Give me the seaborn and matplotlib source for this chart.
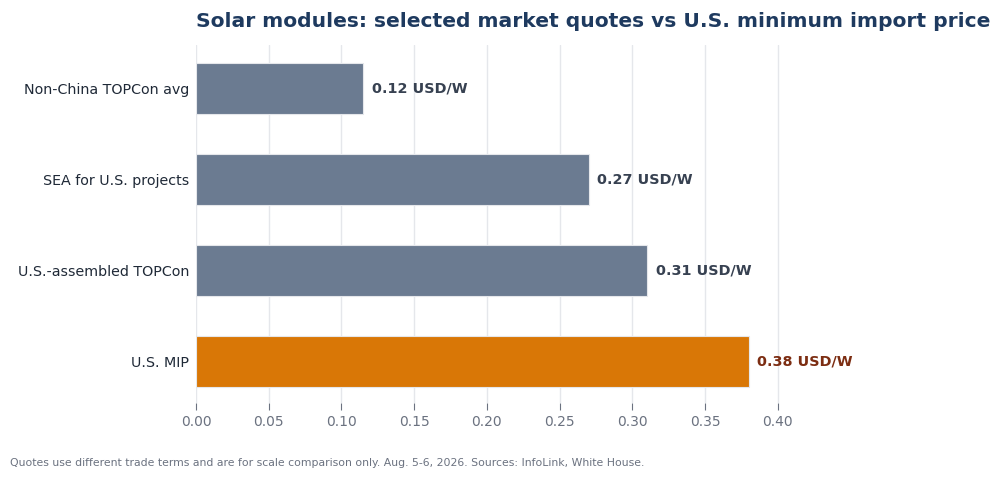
import matplotlib
matplotlib.use("Agg")
import matplotlib.pyplot as plt
import seaborn as sns
import pandas as pd

categories = ["Non-China TOPCon avg", "SEA for U.S. projects", "U.S.-assembled TOPCon", "U.S. MIP"]
prices = [0.115, 0.27, 0.31, 0.38]
labels = ["0.12 USD/W", "0.27 USD/W", "0.31 USD/W", "0.38 USD/W"]
xticks = [0.00, 0.05, 0.10, 0.15, 0.20, 0.25, 0.30, 0.35, 0.40]

bar_colors = ["#6b7b91", "#6b7b91", "#6b7b91", "#d97706"]
label_colors = ["#374151", "#374151", "#374151", "#7c2d12"]

df = pd.DataFrame({"category": categories, "price": prices})

sns.set_theme(style="white")
plt.rcParams["font.family"] = ["DejaVu Sans"]

fig = plt.figure(figsize=(10, 4.79), dpi=100)
ax = fig.add_axes([0.196, 0.159, 0.64, 0.747])

sns.barplot(data=df, x="price", y="category", hue="category", palette=bar_colors,
            saturation=1, legend=False, width=0.56, edgecolor="#e5e7eb",
            linewidth=0.8, ax=ax)

for i, (v, t) in enumerate(zip(prices, labels)):
    ax.text(v + 0.006, i, t, va="center", ha="left", fontsize=10.4,
            fontweight="bold", color=label_colors[i])

ax.set_xlim(0, 0.44)
ax.set_ylim(3.45, -0.48)
ax.set_xticks(xticks)
ax.set_xticklabels([f"{x:.2f}" for x in xticks])
ax.set_xlabel("")
ax.set_ylabel("")
ax.grid(axis="x", color="#e5e7eb", linewidth=1)
ax.set_axisbelow(True)
for s in ax.spines.values():
    s.set_visible(False)
ax.tick_params(axis="x", colors="#6b7280", labelsize=10, length=5, width=0.8, bottom=True, pad=4)
ax.tick_params(axis="y", colors="#1f2937", labelsize=10.3, length=0, pad=5)

ax.set_title("Solar modules: selected market quotes vs U.S. minimum import price",
             loc="left", fontsize=14.6, fontweight="bold", color="#1e3a5f", pad=13)

fig.text(0.01, 0.033, "Quotes use different trade terms and are for scale comparison only. Aug. 5-6, 2026. Sources: InfoLink, White House.",
         fontsize=7.8, color="#6b7280", ha="left", va="center")

fig.savefig("out.png", dpi=100)
